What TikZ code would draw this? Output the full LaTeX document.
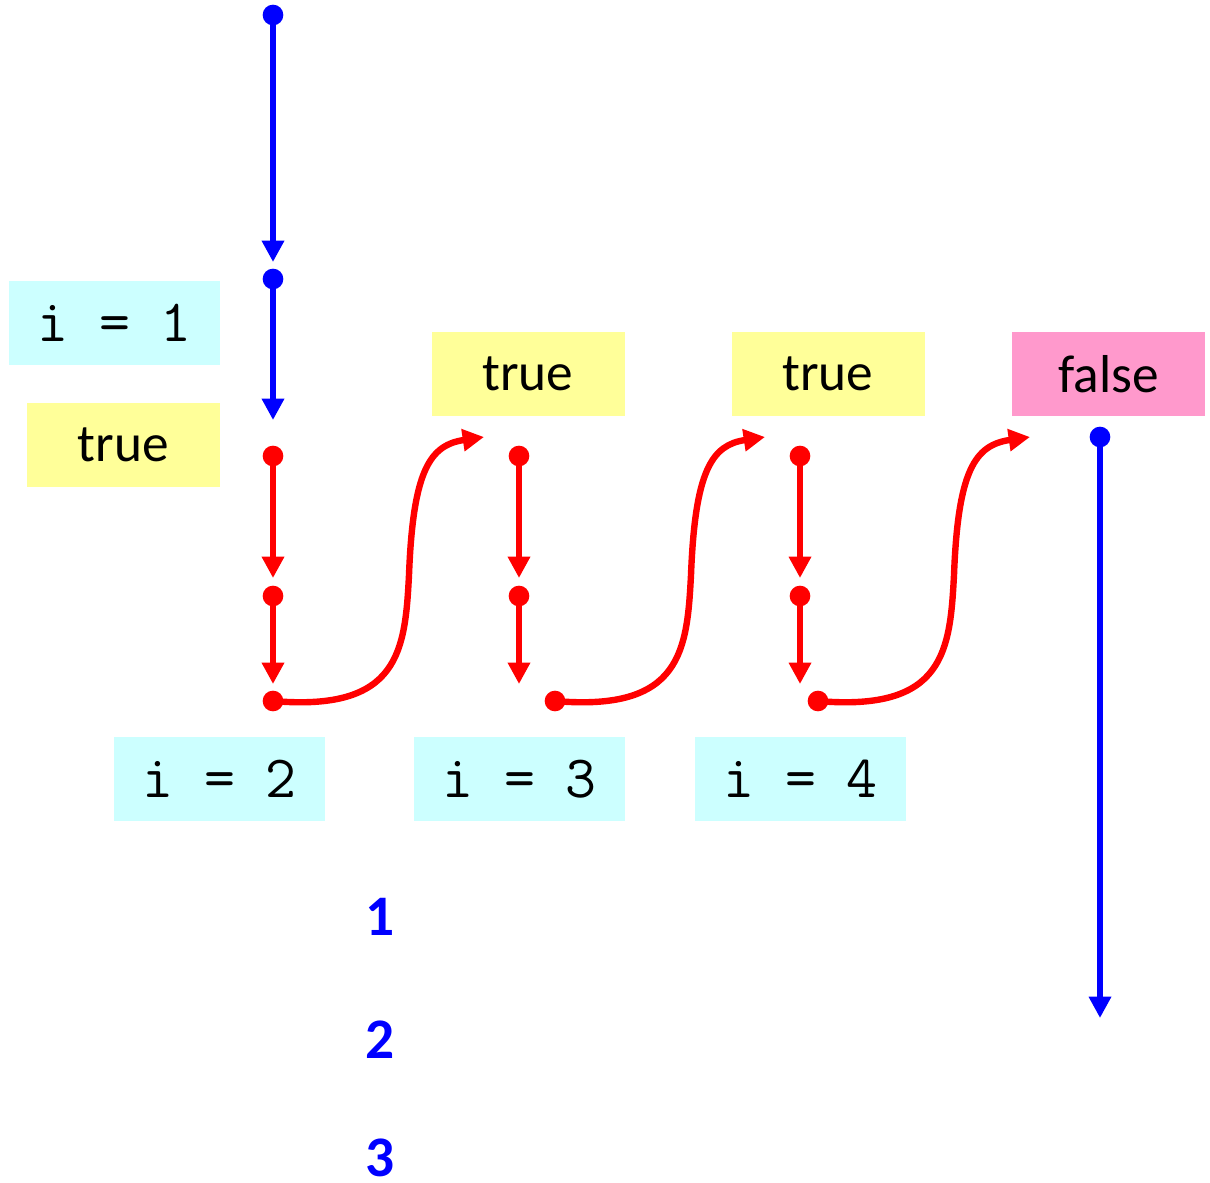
\documentclass[tikz,border=0pt]{standalone}
\usepackage{fontspec}
\setmainfont{Carlito}
\usetikzlibrary{arrows.meta}
\definecolor{cyanbox}{HTML}{CCFFFF}
\definecolor{yellowbox}{HTML}{FFFF99}
\definecolor{pinkbox}{HTML}{FF99CC}
\definecolor{myblue}{RGB}{0,0,255}
\definecolor{myred}{RGB}{255,0,0}
\begin{document}
\begin{tikzpicture}[x=0.75pt,y=-0.75pt,
  codebox/.style={fill=cyanbox, minimum width=158.25pt, minimum height=63pt, inner sep=0pt,
    font=\ttfamily\fontsize{45}{46}\selectfont},
  boolbox/.style={minimum width=144.75pt, minimum height=63pt, inner sep=0pt,
    font=\fontsize{40}{41}\selectfont},
  truebox/.style={boolbox, fill=yellowbox},
  falsebox/.style={boolbox, fill=pinkbox},
  bluedot/.style={circle, fill=myblue, inner sep=0pt, minimum size=15.5pt},
  reddot/.style={circle, fill=myred, inner sep=0pt, minimum size=15.5pt},
  bluearrow/.style={draw=myblue, line width=5pt, -{Triangle[length=16pt,width=16pt]}},
  redarrow/.style={draw=myred, line width=4.8pt, -{Triangle[length=16pt,width=16pt]}},
  stepnum/.style={text=myblue, inner sep=0pt, font=\bfseries\fontsize{43}{44}\selectfont},
]
\useasboundingbox (0,0) rectangle (1210,1182);

% boxes
\node[codebox] (i1) at (114.5,323) {i = 1};
\node[truebox] (t1) at (123.5,445) {true};
\node[truebox] (t2) at (528,374) {true};
\node[truebox] (t3) at (828,374) {true};
\node[falsebox] (f) at (1108.5,374) {false};
\node[codebox] (i2) at (219.5,779) {i = 2};
\node[codebox] (i3) at (519.5,779) {i = 3};
\node[codebox] (i4) at (800.5,779) {i = 4};

% step numbers
\node[stepnum] (n1) at (380,917) {1};
\node[stepnum] (n2) at (380,1040) {2};
\node[stepnum] (n3) at (380,1158) {3};

% blue start arrows
\node[bluedot] (b1) at (273,15) {};
\coordinate (b1e) at (273,262);
\draw[bluearrow] (b1.center) -- (b1e);
\node[bluedot] (b2) at (273,279) {};
\coordinate (b2e) at (273,420);
\draw[bluearrow] (b2.center) -- (b2e);

% column 1
\node[reddot] (r11) at (273,456) {};
\coordinate (r11e) at (273,578);
\draw[redarrow] (r11.center) -- (r11e);
\node[reddot] (r12) at (273,596) {};
\coordinate (r12e) at (273,684);
\draw[redarrow] (r12.center) -- (r12e);
\node[reddot] (r13) at (273,701) {};
\coordinate (c1) at (484,437);
\draw[redarrow] (r13.center) .. controls (400,712) and (405,650) .. (409,575)
  .. controls (413,470) and (430,445) .. (c1);

% column 2
\node[reddot] (r21) at (519,456) {};
\coordinate (r21e) at (519,578);
\draw[redarrow] (r21.center) -- (r21e);
\node[reddot] (r22) at (519,596) {};
\coordinate (r22e) at (519,684);
\draw[redarrow] (r22.center) -- (r22e);
\node[reddot] (r23) at (555,701) {};
\coordinate (c2) at (765,437);
\draw[redarrow] (r23.center) .. controls (682,712) and (687,650) .. (691,575)
  .. controls (695,470) and (712,445) .. (c2);

% column 3
\node[reddot] (r31) at (800,456) {};
\coordinate (r31e) at (800,578);
\draw[redarrow] (r31.center) -- (r31e);
\node[reddot] (r32) at (800,596) {};
\coordinate (r32e) at (800,684);
\draw[redarrow] (r32.center) -- (r32e);
\node[reddot] (r33) at (818,701) {};
\coordinate (c3) at (1030,437);
\draw[redarrow] (r33.center) .. controls (945,712) and (950,650) .. (954,575)
  .. controls (958,470) and (975,445) .. (c3);

% blue exit arrow
\node[bluedot] (b3) at (1100,437) {};
\coordinate (b3e) at (1100,1018);
\draw[bluearrow] (b3.center) -- (b3e);
\end{tikzpicture}
\end{document}
